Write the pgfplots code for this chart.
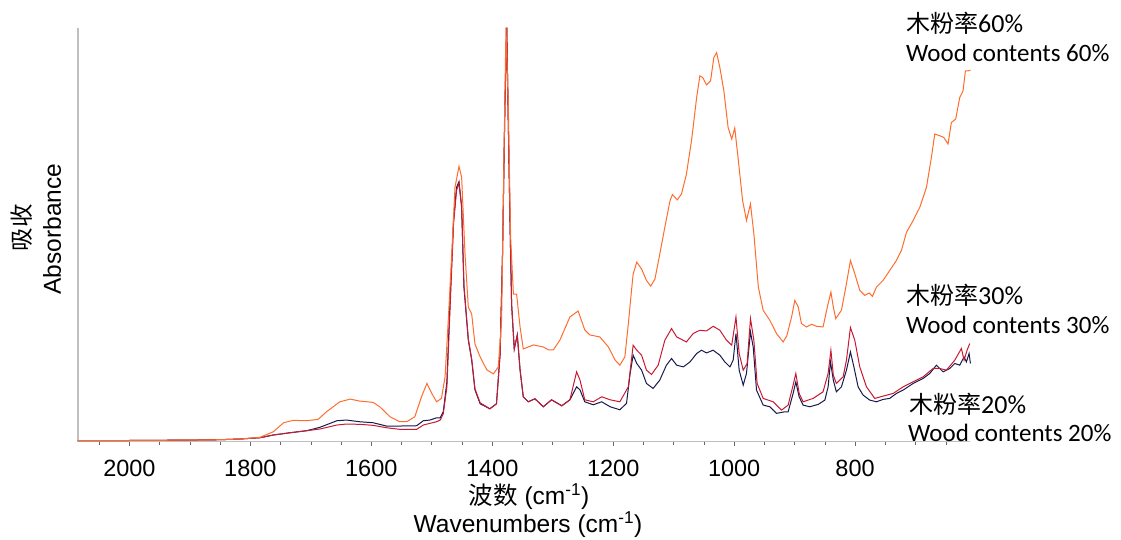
\documentclass[border=0pt]{standalone}
\usepackage{pgfplots}
\pgfplotsset{compat=1.18}
\usepackage{fontspec}
\setmainfont{Liberation Sans}
\newfontfamily\cjk{Noto Sans CJK SC}
\newfontfamily\calib{Carlito}
\definecolor{c60}{RGB}{255,108,45}
\definecolor{c30}{RGB}{200,25,50}
\definecolor{c20}{RGB}{22,26,78}
\begin{document}
\begin{tikzpicture}[x=1pt,y=1pt]
\useasboundingbox (0,0) rectangle (1121,540);
\begin{axis}[
  at={(78pt,98.3pt)}, anchor=south west,
  scale only axis, width=892pt, height=414pt,
  x dir=reverse, xmin=610, xmax=2085, ymin=0, ymax=415,
  axis x line=bottom, axis y line=left,
  axis line style={-, draw=black!25, line width=1.6pt},
  ytick=\empty,
  xtick={800,1000,1200,1400,1600,1800,2000},
  xticklabels={800,1000,1200,1400,1600,1800,2000},
  minor xtick={650,700,750,850,900,950,1050,1100,1150,1250,1300,1350,1450,1500,1550,1650,1700,1750,1850,1900,1950,2050},
  tick align=outside,
  major tick length=4pt, minor tick length=3pt,
  tick style={draw=black!60, line width=0.6pt},
  xticklabel style={font=\fontsize{23.5}{28}\selectfont, anchor=base, yshift=-31pt},
  /pgf/number format/assume math mode=true,
  clip=false,
]
\addplot[c20, line width=1pt] coordinates {
(2085,1)(2000,1.2)(1900,1.6)(1850,2)(1817,2.7)(1784,4)(1762,6.7)(1734,9)(1707,11)(1685,14.4)
(1657,21)(1641,21.7)(1619,20)(1597,19)(1575,15.7)(1553,15.7)(1525,16)(1514,21)(1503,21.7)(1492,24)
(1486,24)(1481,30)(1475,60)(1470,138)(1464,222)(1459,255)(1455,260.7)(1450.6,235)(1446.8,155)(1439.6,102)
(1434,82)(1428.6,52)(1420,38)(1404,33)(1393,38)(1387,88)(1383,188)(1379,338)(1376,415)(1373.5,321)
(1370.7,222)(1368,138)(1363.6,93)(1358.6,107)(1354,72)(1348.7,45)(1340.4,40)(1329.4,43)(1315.6,35)(1302,42)
(1285,36)(1271.6,42)(1260.5,55)(1255,52)(1247,40)(1233,37)(1219,40)(1205,35)(1189,32)(1178,38.4)
(1172,68.4)(1167,86.7)(1161,78.4)(1153,71.7)(1145,58.4)(1134,53.4)(1123,61.7)(1112,76.7)(1103.5,83.4)(1095,76.7)
(1084,75)(1073,80)(1062,88.4)(1054,91.7)(1045.7,89)(1034.7,91.7)(1023.6,86.7)(1015.4,80)(1007,75)(1001.6,81.7)
(997,108.4)(991.7,71.7)(985,56.7)(979.6,68.4)(973,110)(968.5,95)(963,51.7)(952,36.7)(941,35)(930,28.4)
(916,30)(910.7,30)(902.5,48.4)(898,60)(892.5,45)(886,36.7)(875,35)(861,37.4)(850,41.7)(844.6,55)
(840.7,80)(836,61.7)(831,50)(822.6,55)(814.3,71.7)(807.7,90)(802,75)(795,55)(786.8,46.7)(775.7,41.7)
(764.7,40)(753.7,42.4)(742.7,43.4)(731.6,48.4)(720.6,51.7)(704,58.4)(687.6,63.4)(676.6,68.4)(665.5,76.7)(654.5,70)
(643.5,73.4)(635.2,78.4)(627,76.7)(619.8,85)(616,80)(611.5,88.4)(609.3,78.4)
};
\addplot[c30, line width=1pt] coordinates {
(2085,1)(2000,1.2)(1900,1.6)(1850,2)(1817,2.7)(1784,4)(1762,6.7)(1734,9)(1707,11)(1685,12.7)
(1657,16.7)(1641,17.7)(1619,17.4)(1597,16.4)(1575,14)(1553,12.4)(1525,12.4)(1514,16.7)(1503,18.4)(1492,20)
(1486,21.7)(1481,28)(1475,55)(1470,130)(1464,218)(1459,252)(1455,259)(1450.6,236)(1446.8,157)(1439.6,103)
(1434,83)(1428.6,53)(1420,39)(1404,33)(1393,38)(1387,88)(1383,188)(1379,338)(1376,415)(1373.5,321)
(1370.7,222)(1368,138)(1363.6,93)(1358.6,107)(1354,72)(1348.7,45)(1340.4,40)(1329.4,43)(1315.6,35)(1302,42)
(1285,36)(1271.6,42)(1260.5,70)(1255,62)(1247,42)(1233,40)(1219,45)(1205,42)(1189,40)(1175,55)
(1167,96.7)(1161,91.7)(1153,86.7)(1145,71.7)(1136.6,67.4)(1125.6,76.7)(1114.6,101.7)(1103.5,113.4)(1095,105)(1079,100)
(1067.7,108.4)(1056.7,111.7)(1045.7,111)(1034.7,115.7)(1023.6,111.7)(1012.6,101.7)(1004,96.7)(997,125)(991.7,88.4)(985,71.7)
(978.5,78.4)(973,123.4)(967.4,101.7)(962,58.4)(952,43.4)(935.5,40)(921.7,31.7)(910.7,36.7)(902.5,56.7)(898,68.4)
(892.5,48.4)(886,40)(869.4,43.4)(853,50)(844.6,68.4)(840,91.7)(836,66.7)(831,58.4)(819.8,65)(814.3,81.7)
(807.7,114.4)(800.5,101.7)(792.3,75)(781.2,55)(767.5,43.4)(753.7,45.7)(737,48.4)(720.6,55)(704,60)(687.6,65)
(671,73.4)(660,73.4)(649,71.7)(635.2,81.7)(624.2,93.4)(619.8,81.7)(614.8,91.7)(610.4,98.4)
};
\addplot[c60, line width=1pt] coordinates {
(2085,1)(2000,1.2)(1900,1.6)(1850,2)(1817,2.7)(1784,4.4)(1762,10)(1745,19)(1729,21.4)(1707,21)
(1688,22.4)(1674,30)(1652,40)(1635,42.7)(1619,40.7)(1597,39.4)(1586,35)(1569,25)(1553,20)(1541.5,20)
(1528,25)(1517,45)(1508,58.4)(1500,48.4)(1492,40)(1484,43.4)(1478,65)(1472.7,122)(1467,188)(1461.6,255)
(1455,276)(1450.6,265)(1445,188)(1439.6,135)(1434,128)(1428.6,98)(1420,85)(1409,72)(1398,68)(1390,75)
(1384.5,122)(1380.6,288)(1377.3,415)(1373.5,338)(1369.6,205)(1365,148)(1359.7,148)(1354,115)(1348.7,93)(1332,97)
(1315.6,95)(1307,92)(1299,92)(1288,102)(1271.6,125)(1258,131)(1247,112)(1238.5,107)(1222,105)(1208,95)
(1197,82)(1189,76.7)(1180.7,85)(1175,118)(1169.7,151.7)(1167,168)(1161,180)(1153,173)(1145,161.7)(1138,156)
(1131,163)(1123,188)(1114.6,215)(1106,241.7)(1102,247.7)(1094,242.4)(1087,248.4)(1079,268)(1070.5,301.7)(1062,345)
(1056.7,366.7)(1052,365)(1045.7,357.7)(1039,361.7)(1033.6,385)(1029,390)(1023.6,375)(1017,351.7)(1010,315)(1004,303.4)
(999,314.4)(993,281.7)(986,241.7)(979.6,221.7)(973,238.4)(967.4,208.4)(960,155)(952,131.7)(941,121.7)(930,108.4)
(919,100)(913,106)(905,125)(899.7,141.7)(894,135)(888.7,118.4)(880.4,115)(872,117.7)(864,115.7)(853,115)
(844.6,138.4)(840,150)(836,135)(832,123.4)(822.6,131.7)(814.3,158.4)(807.7,181.7)(800.5,168.4)(792.3,151.7)(784,146.7)
(776.8,149)(771.3,145.7)(764.7,155)(753.7,161.7)(742.7,171.7)(731.6,181.7)(723.4,191.7)(715,210)(704,221.7)(693,235)
(682,255)(673.8,285)(668.3,308.4)(660,306.7)(653.4,305)(646.3,298.4)(640.8,320)(633.6,323.4)(627,345)(621.5,351.7)
(617.6,371.7)(613.2,371.7)(609.3,372.4)
};
\end{axis}
% y label
\node[rotate=90, font=\cjk\fontsize{23.5}{28}\selectfont] at (22,312) {吸收};
\node[rotate=90, font=\fontsize{24.5}{29}\selectfont] at (52,311) {Absorbance};
% x label
\node[font=\fontsize{24.5}{29}\selectfont] at (529,43.5) {{\cjk 波数} (cm\textsuperscript{-1})};
\node[font=\fontsize{24.5}{29}\selectfont] at (528,15) {Wavenumbers (cm\textsuperscript{-1})};
% series labels
\node[anchor=west, inner sep=0pt, font=\calib\fontsize{26}{30}\selectfont] at (906,517) {{\cjk\fontsize{24}{28}\selectfont 木粉率}60\%};
\node[anchor=west, inner sep=0pt, font=\calib\fontsize{25}{30}\selectfont] at (906,487) {Wood contents 60\%};
\node[anchor=west, inner sep=0pt, font=\calib\fontsize{26}{30}\selectfont] at (906,245) {{\cjk\fontsize{24}{28}\selectfont 木粉率}30\%};
\node[anchor=west, inner sep=0pt, font=\calib\fontsize{25}{30}\selectfont] at (906,215) {Wood contents 30\%};
\node[anchor=west, inner sep=0pt, font=\calib\fontsize{26}{30}\selectfont] at (909,136) {{\cjk\fontsize{24}{28}\selectfont 木粉率}20\%};
\node[anchor=west, inner sep=0pt, font=\calib\fontsize{25}{30}\selectfont] at (908,107) {Wood contents 20\%};
\end{tikzpicture}
\end{document}
